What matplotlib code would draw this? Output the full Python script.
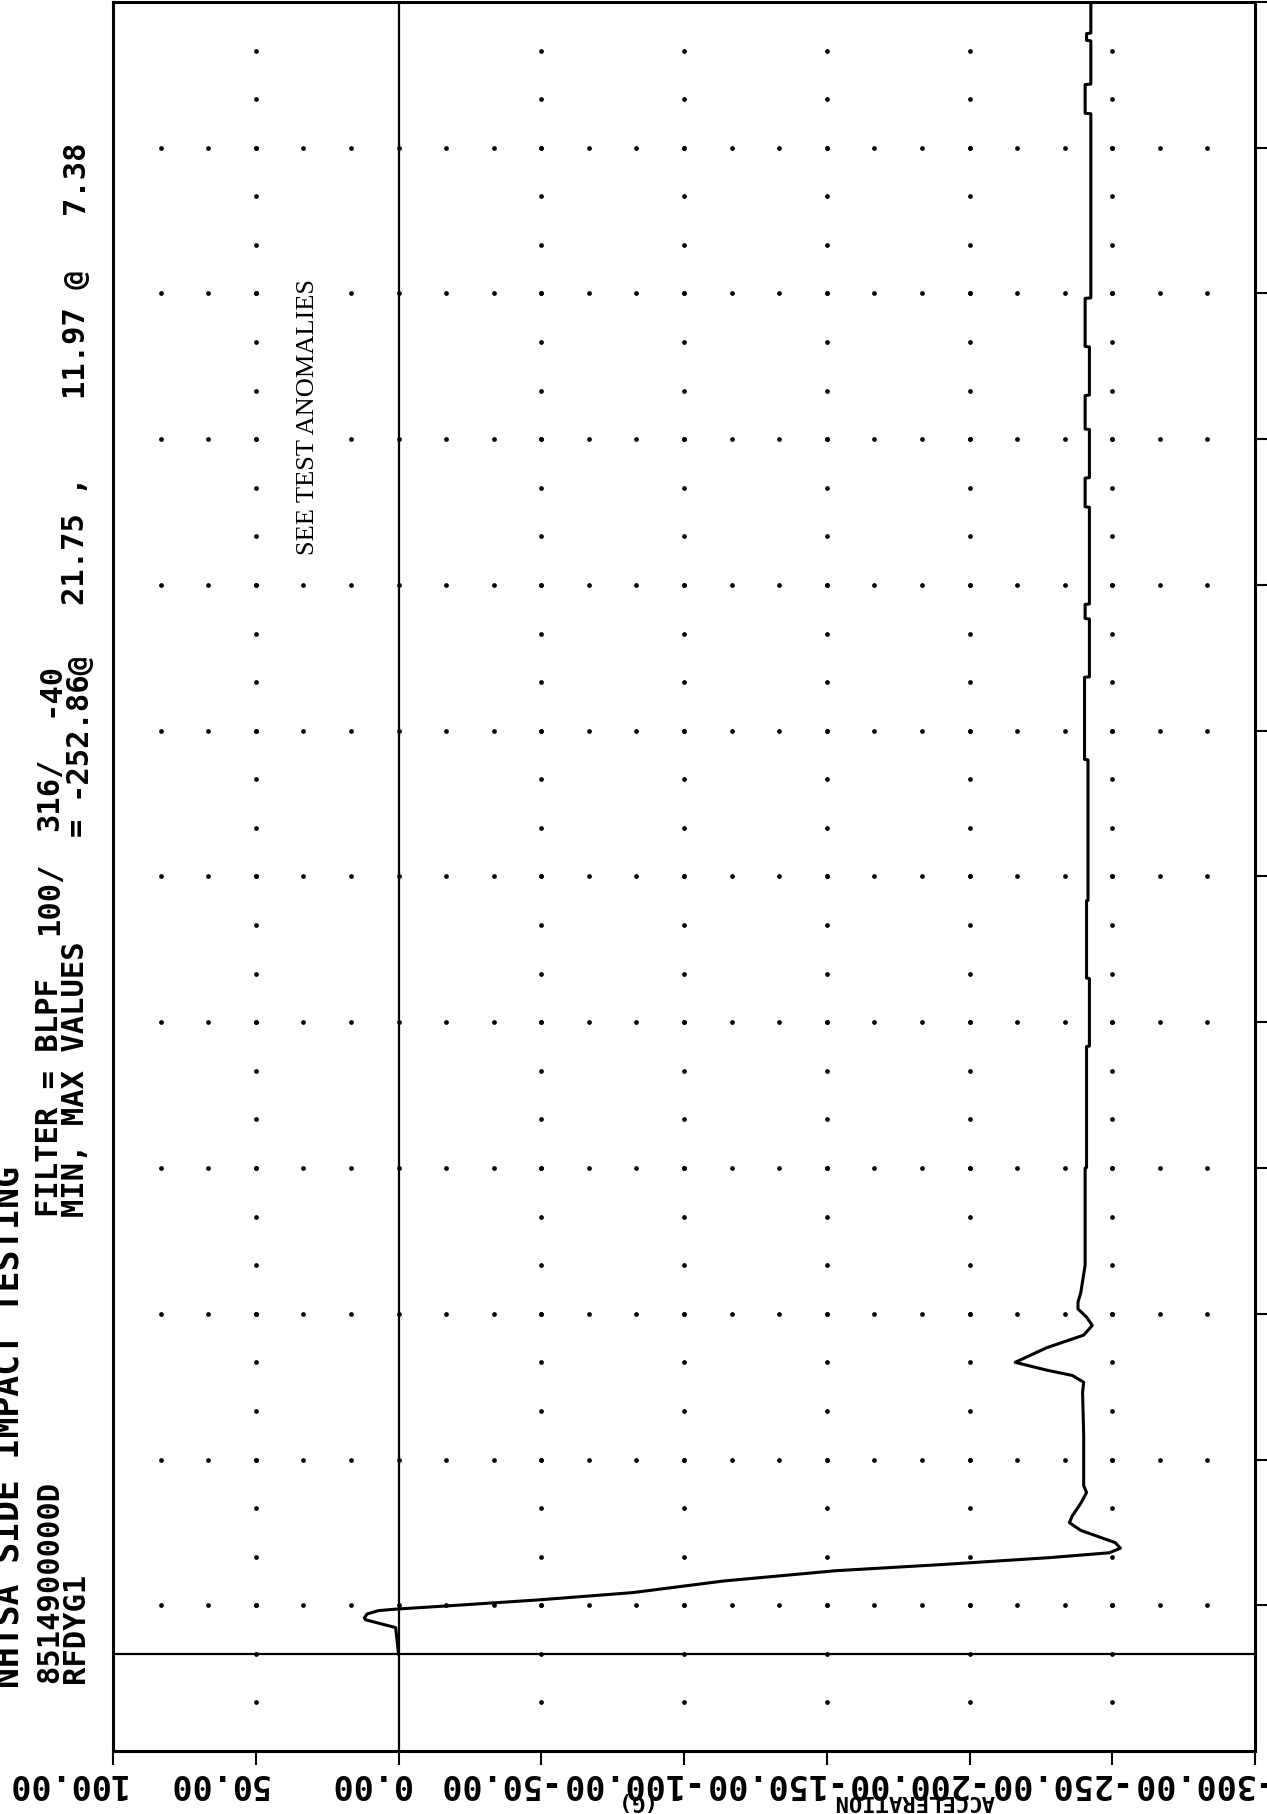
import matplotlib

matplotlib.use("Agg")
import matplotlib.pyplot as plt
from matplotlib.transforms import ScaledTranslation, blended_transform_factory
import numpy as np

W, H, DPI = 1267, 1814, 100

# crash pulse, time in ms (vertical) vs acceleration in G (horizontal)
TIME_MS = [
    0.0, 5.4, 7.0, 7.38, 8.2, 8.9, 9.2, 9.9, 11.1, 12.6, 15.0, 17.1, 18.4,
    19.8, 20.8, 21.75, 22.9, 25.4, 27.0, 28.4, 31.0, 33.2, 34.6, 45.0, 53.8,
    55.9, 57.3, 58.4, 60.0, 63.0, 65.6, 67.6, 69.3, 71.0, 72.4, 74.4, 80.0,
    100.0, 100.1, 125.0, 125.1, 139.0, 139.1, 155.0, 155.1, 184.0, 184.1,
    201.0, 201.1, 213.0, 213.1, 216.0, 216.1, 236.0, 236.1, 242.0, 242.1,
    252.0, 252.1, 259.0, 259.1, 269.0, 269.1, 279.0, 279.1, 317.0, 317.1,
    323.0, 323.1, 332.0, 332.1, 333.5, 333.6, 340.0,
]
ACCEL_G = [
    0.0, 1.0, 11.5, 11.97, 11.0, 7.0, 1.0, -18.0, -49.0, -82.0, -114.0,
    -153.0, -191.0, -228.0, -249.0, -252.86, -251.0, -239.0, -235.0, -236.0,
    -239.0, -241.0, -240.0, -240.0, -239.6, -240.0, -236.0, -227.0, -216.0,
    -227.0, -240.0, -243.0, -241.0, -238.0, -238.0, -239.0, -240.5,
    -240.5, -241.0, -241.0, -242.0, -242.0, -241.0, -241.0, -241.5, -241.5,
    -240.3, -240.3, -242.0, -242.0, -240.5, -240.5, -242.0, -242.0, -240.5,
    -240.5, -242.0, -242.0, -240.5, -240.5, -242.0, -242.0, -240.5, -240.5,
    -242.5, -242.5, -240.5, -240.5, -242.5, -242.5, -241.0, -241.0, -242.5,
    -242.5,
]

ACCEL_LIMITS = (100, -300)
TIME_LIMITS = (-20, 340)
ACCEL_TICKS = [100, 50, 0, -50, -100, -150, -200, -250, -300]
ACCEL_TICK_LABELS = ["100.00", "50.00", "0.00", "-50.00", "-100.00",
                     "-150.00", "-200.00", "-250.00", "-300.00"]
TIME_TICKS = [10, 40, 70, 100, 130, 160, 190, 220, 250, 280, 310, 340]

TITLE = "NHTSA SIDE IMPACT TESTING"
TEST_ID = "8514900000D"
CHANNEL = "RFDYG1"
FILTER_TEXT = "FILTER = BLPF"
FILTER_VALUES = ["100/", "316/", "-40"]
MINMAX_TEXT = ["MIN, MAX VALUES", "="]
MINMAX_PARTS = ["-252.86@", "21.75 ,", "11.97 @", "7.38"]
NOTE = "SEE TEST ANOMALIES"
AXIS_NAME = "ACCELERATION"
AXIS_UNIT = "(G)"

MONO = "DejaVu Sans Mono"


def fig_xy(x, y):
    return x / W, 1 - y / H


def header(fig, text, x, y, size=22):
    fig.text(*fig_xy(x, y), text, rotation=90, ha="center", va="bottom",
             family=MONO, weight="bold", fontsize=size, color="black")


def main() -> None:
    fig = plt.figure(figsize=(W / DPI, H / DPI), dpi=DPI)
    left, right, top, bottom = 113, 1255, 2, 1751
    ax = fig.add_axes([left / W, 1 - bottom / H, (right - left) / W, (bottom - top) / H])
    ax.set_xlim(*ACCEL_LIMITS)
    ax.set_ylim(*TIME_LIMITS)
    for spine in ax.spines.values():
        spine.set_linewidth(2.2)

    ax.set_xticks(ACCEL_TICKS)
    ax.tick_params(axis="x", direction="out", length=10, width=1.5, labelbottom=False)
    ax.yaxis.tick_right()
    ax.set_yticks(TIME_TICKS)
    ax.tick_params(axis="y", direction="out", length=9, width=1.5, labelright=False)

    # dotted grid: rows at time ticks, columns at acceleration ticks
    row_x = np.arange(100 - 50 / 3, -300, -50 / 3)
    for t in TIME_TICKS[:-1]:
        ax.plot(row_x, np.full_like(row_x, t), ls="none", marker="o",
                ms=2.4, color="black", zorder=1)
    col_t = np.arange(-10, 340, 10)
    for g in ACCEL_TICKS[1:-1]:
        if g == 0:
            continue
        ax.plot(np.full_like(col_t, g, dtype=float), col_t, ls="none",
                marker="o", ms=2.4, color="black", zorder=1)

    ax.axvline(0, color="black", lw=1.6)
    ax.axhline(0, color="black", lw=1.6)
    ax.plot(ACCEL_G, TIME_MS, color="black", lw=2.2)

    # acceleration tick labels, printed upside down like the plotter output
    trans = blended_transform_factory(ax.transData, fig.transFigure)
    shift = ScaledTranslation(12 / DPI, 0, fig.dpi_scale_trans)
    for val, lab in zip(ACCEL_TICKS, ACCEL_TICK_LABELS):
        ax.text(val, 1 - 1783 / H, lab, transform=trans + shift, rotation=180,
                ha="right", va="center", family=MONO, weight="bold",
                fontsize=24, clip_on=False)
    fig.text(*fig_xy(995, 1801), AXIS_NAME, rotation=180, ha="right",
             va="center", family=MONO, weight="bold", fontsize=16)
    fig.text(*fig_xy(650, 1801), AXIS_UNIT, rotation=180, ha="right",
             va="center", family=MONO, weight="bold", fontsize=16)

    # header block, rotated with the page
    header(fig, TITLE, 9, 1688, size=25)
    header(fig, TEST_ID, 50, 1683)
    header(fig, FILTER_TEXT, 50, 1217)
    for part, y in zip(FILTER_VALUES, [935, 831, 717]):
        header(fig, part, 50, y)
    header(fig, CHANNEL, 76, 1683)
    header(fig, MINMAX_TEXT[0], 76, 1217)
    header(fig, MINMAX_TEXT[1], 76, 836)
    for part, y in zip(MINMAX_PARTS, [798, 605, 399, 214]):
        header(fig, part, 76, y)

    fig.text(*fig_xy(308, 555), NOTE, rotation=90, ha="center", va="bottom",
             family="Liberation Serif", fontsize=19, zorder=5,
             bbox=dict(facecolor="white", edgecolor="none", pad=0.5))

    fig.savefig("out.png", dpi=DPI)
    plt.close(fig)


if __name__ == "__main__":
    main()
